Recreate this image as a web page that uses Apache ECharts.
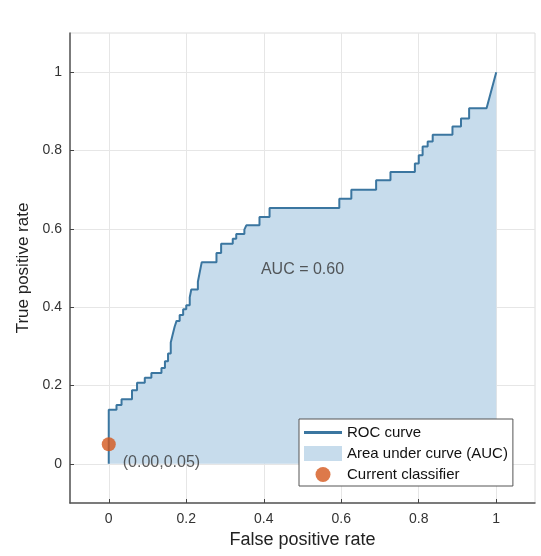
<!DOCTYPE html>
<html>
<head>
<meta charset="utf-8">
<script src="https://cdn.jsdelivr.net/npm/echarts@6/dist/echarts.min.js"></script>
<style>
html,body{margin:0;padding:0;background:#fff;}
#chart{width:541px;height:556px;}
</style>
</head>
<body>
<div id="chart"></div>
<script>
// ROC curve vertices (false positive rate, true positive rate)
var rocFpr = [0,0,0.02,0.02,0.033,0.033,0.06,0.06,0.073,0.073,0.093,0.093,0.11,0.11,0.136,0.136,0.145,0.145,0.153,0.153,0.16,0.16,0.165,0.165,0.17,0.17,0.175,0.175,0.183,0.183,0.192,0.192,0.2,0.2,0.209,0.209,0.213,0.213,0.23,0.23,0.235,0.235,0.24,0.24,0.278,0.278,0.29,0.29,0.32,0.32,0.329,0.329,0.35,0.35,0.355,0.355,0.389,0.389,0.415,0.415,0.595,0.595,0.626,0.626,0.69,0.69,0.727,0.727,0.79,0.79,0.8,0.8,0.81,0.81,0.823,0.823,0.836,0.836,0.887,0.887,0.909,0.909,0.93,0.93,0.975,1];
var rocTpr = [0,0.138,0.138,0.15,0.15,0.165,0.165,0.188,0.188,0.207,0.207,0.22,0.22,0.232,0.232,0.245,0.245,0.262,0.262,0.282,0.282,0.31,0.31,0.33,0.33,0.35,0.35,0.365,0.365,0.38,0.38,0.395,0.395,0.405,0.405,0.425,0.425,0.445,0.445,0.465,0.465,0.49,0.49,0.515,0.515,0.538,0.538,0.562,0.562,0.575,0.575,0.587,0.587,0.598,0.598,0.609,0.609,0.63,0.63,0.653,0.653,0.677,0.677,0.7,0.7,0.724,0.724,0.745,0.745,0.767,0.767,0.788,0.788,0.81,0.81,0.823,0.823,0.84,0.84,0.861,0.861,0.882,0.882,0.908,0.908,1];
var classifierPoint = [0, 0.05];
var aucValue = 0.60;
var aucLabelPos = [0.5, 0.497];
var tickValues = [0, 0.2, 0.4, 0.6, 0.8, 1];
var tickLabels = ['0', '0.2', '0.4', '0.6', '0.8', '1'];
var seriesNames = ['ROC curve', 'Area under curve (AUC)', 'Current classifier'];

var FONT = '"Liberation Sans", Arial, sans-serif';
var lineColor = '#3b76a0';
var fillColor = '#c7dcec';
var dotColor = '#d4581d';

var rocData = rocFpr.map(function (x, i) { return [x, rocTpr[i]]; });
function tickFmt(v) {
  var idx = tickValues.indexOf(Math.round(v * 10) / 10);
  return idx >= 0 ? tickLabels[idx] : '';
}

var chart = echarts.init(document.getElementById('chart'), null, {renderer: 'canvas'});
var axisCommon = {
  type: 'value',
  min: -0.1,
  max: 1.1,
  axisLine: {show: true, onZero: false, lineStyle: {color: '#555', width: 1.5}},
  axisTick: {show: true, inside: true, length: 4, customValues: tickValues, lineStyle: {color: '#444', width: 1}},
  axisLabel: {customValues: tickValues, formatter: tickFmt, color: '#333', fontFamily: FONT, fontSize: 14},
  splitLine: {show: true, lineStyle: {color: '#e6e6e6', width: 1}},
  nameLocation: 'middle',
  nameTextStyle: {color: '#222', fontFamily: FONT}
};
var option = {
  backgroundColor: '#fff',
  animation: false,
  grid: {left: 70, right: 6, top: 33, bottom: 53, show: true, borderColor: '#dcdcdc', borderWidth: 1, backgroundColor: 'transparent'},
  xAxis: echarts.util.merge({
    name: 'False positive rate', nameGap: 28,
    axisLabel: {margin: 9},
    nameTextStyle: {fontSize: 18}
  }, axisCommon),
  yAxis: echarts.util.merge({
    name: 'True positive rate', nameGap: 38, nameRotate: 90,
    axisLabel: {margin: 8},
    nameTextStyle: {fontSize: 17}
  }, axisCommon),
  legend: {
    orient: 'vertical',
    left: 299, top: 419,
    padding: [6, 5, 4, 5],
    itemGap: 6,
    itemWidth: 38, itemHeight: 15,
    backgroundColor: '#fff',
    borderColor: '#555', borderWidth: 1,
    textStyle: {color: '#111', fontFamily: FONT, fontSize: 15},
    data: [
      {name: seriesNames[0], icon: 'path://M0 0 L38 0 L38 3 L0 3 Z', itemStyle: {color: lineColor, borderWidth: 0}},
      {name: seriesNames[1], icon: 'rect', itemStyle: {color: fillColor, borderWidth: 0}},
      {name: seriesNames[2], icon: 'circle', itemStyle: {color: dotColor, borderWidth: 0}}
    ]
  },
  series: [
    {
      name: seriesNames[1], type: 'line', data: rocData, symbol: 'none', z: 1,
      color: fillColor,
      lineStyle: {width: 0, color: fillColor},
      areaStyle: {color: fillColor, opacity: 1, origin: 'auto'}
    },
    {
      name: seriesNames[0], type: 'line', data: rocData, symbol: 'none', z: 3,
      color: lineColor,
      lineStyle: {width: 2, color: lineColor}
    },
    {
      name: seriesNames[2], type: 'scatter', data: [classifierPoint], symbolSize: 14, z: 4,
      itemStyle: {color: dotColor},
      label: {
        show: true, position: 'right', distance: 7, offset: [0, 18],
        color: '#333', fontFamily: FONT, fontSize: 16,
        formatter: function (p) { return '(' + p.value[0].toFixed(2) + ',' + p.value[1].toFixed(2) + ')'; }
      }
    },
    {
      name: 'AUC label', type: 'scatter', data: [aucLabelPos], symbolSize: 0, z: 4, silent: true,
      label: {
        show: true, position: 'inside', color: '#333', fontFamily: FONT, fontSize: 16,
        formatter: function () { return 'AUC = ' + aucValue.toFixed(2); }
      }
    }
  ]
};
chart.setOption(option);
</script>
</body>
</html>
